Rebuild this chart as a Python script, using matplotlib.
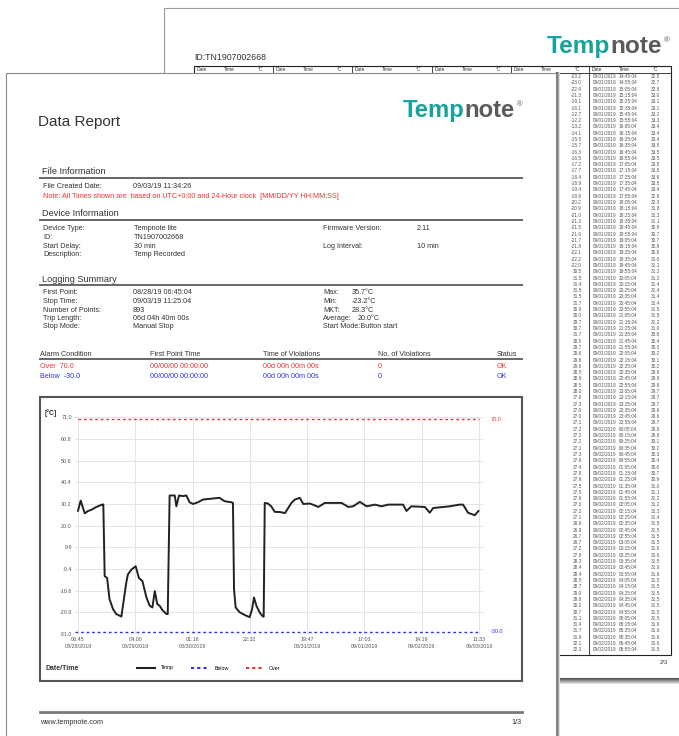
import matplotlib
matplotlib.use('Agg')
import matplotlib.pyplot as plt
from matplotlib.patches import Rectangle
from matplotlib.lines import Line2D
from matplotlib.transforms import blended_transform_factory
import numpy as np
import pandas as pd

plt.rcParams['font.family'] = ['Liberation Sans', 'DejaVu Sans']

# ---- chart data (hours after first point 08/28/2019 06:45:04) ----
hours = [0, 1.0, 2.5, 3.7, 4.9, 6.8, 9.0, 9.4, 9.9, 10.8, 11.7, 13.0, 14.2, 16.1,
         17.9, 18.5, 19.8, 21.4, 22.6, 23.9, 25.4, 26.6, 27.6, 28.5, 29.4, 30.3,
         31.3, 32.8, 33.3, 34.0, 35.9, 36.5, 37.5, 39.0, 40.2, 41.4, 42.7, 44.5,
         46.4, 48.8, 52.5, 54.4, 56.9, 57.5, 57.9, 58.5, 60.0, 61.8, 63.7, 64.6,
         65.3, 66.2, 67.4, 68.6, 68.9, 69.3, 70.5, 71.7, 73.0, 75.0, 76.8, 78.0,
         79.2, 80.5, 82.3, 83.6, 86.1, 89.2, 91.6, 97.8, 100.3, 102.1, 104.6,
         107.1, 110.2, 112.6, 115.1, 120.6, 121.9, 123.7, 128.7, 130.5, 131.8,
         137.9, 141.6, 142.9, 144.7, 147.2, 148.6]
temps = [27.0, 31.8, 25.8, 26.9, 27.4, 28.8, 29.9, 30.0, -3.8, -4.6, -14.6, -19.3,
         -21.6, -22.8, -6.9, -3.0, -0.7, 0.9, -4.6, -6.1, -13.8, -17.7, -18.5, -10.8,
         -16.9, -17.7, -19.7, -21.6, -21.6, 34.2, 34.2, 29.1, 34.2, 33.9, 34.2, 31.0,
         30.2, 31.0, 32.3, 32.6, 33.1, 31.5, 31.0, 30.7, -10.0, -18.5, -20.8, -22.0,
         -23.1, -19.3, -13.8, -17.7, -20.8, -22.8, -22.8, 30.7, 30.4, 29.1, 26.5,
         26.4, 25.9, 28.3, 30.7, 32.3, 33.1, 30.2, 30.4, 28.8, 30.7, 30.7, 28.8,
         29.1, 31.2, 29.1, 29.9, 29.1, 29.9, 29.9, 26.9, 29.1, 28.8, 26.1, 28.3,
         29.1, 29.9, 29.9, 26.1, 24.9, 26.9]
trip_hours = 148.8
tick_labels = ['06:45\n08/28/2019', '04:00\n08/29/2019', '01:16\n08/30/2019', '22:32',
               '19:47\n08/31/2019', '17:03\n09/01/2019', '14:19\n09/02/2019',
               '11:33\n09/03/2019']
y_ticks = [71.0, 60.8, 50.6, 40.4, 30.2, 20.0, 9.8, -0.4, -10.6, -20.8, -31.0]
over_limit = 70.0
below_limit = -30.0

# ---- report text ----
device_left = [('Device Type:', 'Tempnote lite'), ('ID:', 'TN1907002668'),
               ('Start Delay:', '30 min'), ('Description:', 'Temp Recorded')]
device_right = [('Firmware Version:', '2.11'), ('', ''), ('Log Interval:', '10 min')]
summary_left = [('First Point:', '08/28/19 06:45:04'), ('Stop Time:', '09/03/19 11:25:04'),
                ('Number of Points:', '893'), ('Trip Length:', '06d 04h 40m 00s'),
                ('Stop Mode:', 'Manual Stop')]
summary_right = [('Max:', '35.7°C'), ('Min:', '-23.2°C'), ('MKT:', '28.3°C'),
                 ('Average:', '20.0°C'), ('Start Mode:Button start', '')]
alarm_cols = ['Alarm Condition', 'First Point Time', 'Time of Violations',
              'No. of Violations', 'Status']
alarm_rows = [['Over  70.0', '00/00/00 00:00:00', '00d 00h 00m 00s', '0', 'OK'],
              ['Below  -30.0', '00/00/00 00:00:00', '00d 00h 00m 00s', '0', 'OK']]

# ---- page 2 table (two right-most column groups) ----
col5_temps = [-23.2, -23.0, -22.4, -21.3, -19.1, -16.1, -12.7, -12.2, -13.2, -14.1,
              -15.5, -15.7, -16.3, -16.5, -17.2, -17.7, -18.4, -18.9, -19.4, -19.8,
              -20.2, -20.9, -21.0, -21.3, -21.5, -21.6, -21.7, -21.8, -22.1, -22.2,
              -22.0, 30.5, 31.5, 31.4, 31.5, 31.5, 31.7, 30.9, 30.0, 29.7, 30.7, 31.7,
              30.5, 29.7, 29.6, 29.8, 29.6, 28.5, 28.9, 28.5, 28.0, 27.6, 27.3, 27.0,
              27.0, 27.1, 27.2, 27.2, 27.2, 27.1, 27.3, 27.6, 27.4, 27.8, 27.9, 27.5,
              27.5, 27.6, 27.3, 27.2, 27.1, 26.9, 26.8, 26.7, 26.7, 27.2, 27.8, 28.3,
              28.4, 28.4, 28.5, 28.7, 29.0, 29.8, 30.2, 30.7, 31.1, 31.4, 31.7, 31.8,
              32.1, 32.3]
col6_temps = [32.5, 32.7, 32.8, 33.0, 33.1, 33.1, 33.2, 33.3, 33.4, 33.4, 33.4, 33.5,
              33.5, 33.5, 33.5, 33.5, 33.6, 33.5, 33.4, 32.8, 32.3, 31.8, 31.3, 31.1,
              30.8, 30.7, 30.7, 30.8, 30.8, 31.0, 31.1, 31.2, 31.2, 31.4, 31.4, 31.4,
              31.4, 31.5, 31.5, 31.2, 31.0, 30.8, 30.4, 30.3, 30.2, 30.1, 30.2, 29.8,
              29.8, 29.8, 29.7, 29.7, 29.7, 29.6, 29.6, 29.7, 29.8, 29.9, 30.1, 30.2,
              30.3, 30.4, 30.6, 30.7, 30.9, 31.0, 31.1, 31.2, 31.2, 31.3, 31.4, 31.5,
              31.5, 31.5, 31.5, 31.6, 31.6, 31.5, 31.6, 31.6, 31.5, 31.5, 31.5, 31.5,
              31.5, 31.5, 31.5, 31.6, 31.6, 31.6, 31.6, 31.5]
col5_start = '2019-08-30 22:25:04'
col6_start = '2019-09-01 14:45:04'

W, H = 679, 736
teal = '#16a39d'
dark = '#333333'
red = '#ee3333'
blue = '#3333ee'

fig = plt.figure(figsize=(W / 100, H / 100), dpi=100)
ax = fig.add_axes([0, 0, 1, 1])
ax.set_xlim(0, W)
ax.set_ylim(H, 0)
ax.axis('off')
renderer = fig.canvas.get_renderer()


def txt(x, y, s, size=5.2, color=dark, z=6, **kw):
    return ax.text(x, y, s, fontsize=size, color=color, va='center', zorder=z, **kw)


def right_edge(t):
    bb = t.get_window_extent(renderer)
    return ax.transData.inverted().transform([[bb.x1, bb.y1]])[0][0]


def logo(x, y, size, z):
    t1 = ax.text(x, y, 'Temp', fontsize=size, fontweight='bold', color=teal,
                 va='baseline', zorder=z)
    t2 = ax.text(right_edge(t1), y, 'note', fontsize=size, fontweight='bold',
                 color='#5b5b5b', va='baseline', zorder=z)
    ax.text(right_edge(t2) + 2, y - size * 0.68, '®', fontsize=size * 0.32,
            color='#5b5b5b', va='center', zorder=z)


# ---- back page (2/3) ----
ax.add_patch(Rectangle((164, 8), 520, 670, facecolor='white', edgecolor='#9a9a9a',
                       lw=0.8, zorder=1))
for k, g in enumerate(['#555555', '#707070', '#8c8c8c', '#a8a8a8', '#c4c4c4', '#e0e0e0']):
    ax.add_patch(Rectangle((556, 678 + k), 130, 1, color=g, lw=0, zorder=1.5))
logo(547, 53, 17.6, 2)
txt(194, 58, 'ID:TN1907002668', size=6.3, z=2)
group_x = [194, 273, 352, 432, 511, 589]
ax.add_patch(Rectangle((194, 66), 477, 589, fill=False, edgecolor='#222222', lw=0.8, zorder=2))
ax.plot([194, 671], [73, 73], color='#222222', lw=0.6, zorder=2)
for gx in group_x:
    ax.plot([gx, gx], [66, 655], color='#222222', lw=0.6, zorder=2)
    txt(gx + 3, 69.5, 'Date', size=3.5, z=2)
    txt(gx + 30, 69.5, 'Time', size=3.5, z=2)
    txt(gx + 64, 69.5, '°C', size=3.5, z=2)
row_pitch = 6.3
# the date column of group 5 lies fully under the front page, so it is not drawn
for gx, vals, start, show_date in [(511, col5_temps, col5_start, False),
                                   (589, col6_temps, col6_start, True)]:
    stamps = pd.date_range(start, periods=len(vals), freq='10min')
    for i, (v, s) in enumerate(zip(vals, stamps)):
        y = 76.5 + i * row_pitch
        if show_date:
            txt(gx + 4, y, s.strftime('%m/%d/%Y'), size=3.4, color='#555555', z=2)
        txt(gx + 30, y, s.strftime('%H:%M:%S'), size=3.4, color='#555555', z=2)
        txt(gx + 71, y, f'{v:.1f}', size=3.4, color='#555555', z=2, ha='right')
txt(668, 662, '2/3', size=4.2, z=2, ha='right')

# ---- front page (1/3) ----
for k, g in enumerate(['#444444', '#777777', '#aaaaaa', '#dddddd']):
    ax.add_patch(Rectangle((556 + k, 72), 1, 670, color=g, lw=0, zorder=4))
ax.add_patch(Rectangle((5.5, 72.5), 550.5, 670, facecolor='white', edgecolor='#8a8a8a',
                       lw=0.8, zorder=5))
logo(403, 117, 17.2, 6)
txt(38, 122, 'Data Report', size=11)


def section(y, title):
    txt(42, y, title, size=6.6)
    ax.plot([40, 522], [y + 5.5, y + 5.5], color='#666666', lw=1.4, zorder=6)


section(172, 'File Information')
txt(43, 186, 'File Created Date:')
txt(133, 186, '09/03/19 11:34:26')
txt(43, 196, 'Note: All Times shown are  based on UTC+0:00 and 24-Hour clock  [MM/DD/YY HH:MM:SS]',
    color=red)

section(214, 'Device Information')
for i, (lab, val) in enumerate(device_left):
    txt(43, 229 + i * 8.5, lab)
    txt(134, 229 + i * 8.5, val)
for i, (lab, val) in enumerate(device_right):
    txt(323, 229 + i * 8.5, lab)
    txt(417, 229 + i * 8.5, val)

section(279, 'Logging Summary')
for i, (lab, val) in enumerate(summary_left):
    txt(43, 293 + i * 8.5, lab)
    txt(133, 293 + i * 8.5, val)
for i, (lab, val) in enumerate(summary_right):
    t = txt(323, 293 + i * 8.5, lab)
    if val:
        txt(max(352, right_edge(t) + 6), 293 + i * 8.5, val)

col_x = [40, 150, 263, 378, 497]
for cx, c in zip(col_x, alarm_cols):
    txt(cx, 355, c)
ax.plot([40, 522], [359, 359], color='#666666', lw=1.4, zorder=6)
for r, (row, col) in enumerate(zip(alarm_rows, [red, blue])):
    for cx, s in zip(col_x, row):
        txt(cx, 367 + r * 9, s, color=col)

# chart frame and footer
ax.add_patch(Rectangle((40, 397), 482, 284, facecolor='white', edgecolor='#555555',
                       lw=1.5, zorder=6))
txt(45, 413, '[°C]', size=5, fontweight='bold', z=7)
txt(45, 669, 'Date/Time', size=5, fontweight='bold', z=7)
ax.plot([40, 522], [712, 712], color='#777777', lw=2, zorder=6)
txt(40, 722, 'www.tempnote.com', size=5.2)
txt(522, 722, '1/3', size=5.2, ha='right')

# ---- temperature chart ----
left, right, top, bottom = 75.3, 483, 417.3, 634
cax = fig.add_axes([left / W, 1 - bottom / H, (right - left) / W, (bottom - top) / H])
cax.set_facecolor('none')
tick_pos = np.linspace(0, trip_hours, len(tick_labels))
cax.plot(hours, temps, color='#222222', lw=1.4, zorder=3)
cax.hlines(over_limit, 0, trip_hours, color=red, lw=1.0, linestyles=(0, (2, 2)), zorder=2)
cax.hlines(below_limit, -1, trip_hours, color=blue, lw=1.0, linestyles=(0, (2, 2)), zorder=2)
cax.set_xlim(-1, trip_hours + (right - 479) / (479 - 78) * trip_hours)
cax.set_ylim(y_ticks[-1], y_ticks[0])
cax.set_yticks(y_ticks)
cax.set_yticklabels([f'{v:.1f}' for v in y_ticks])
cax.set_xticks(tick_pos)
cax.set_xticklabels(tick_labels, linespacing=1.35)
cax.tick_params(length=0, labelsize=3.9, labelcolor='#555555', pad=2.5)
cax.grid(True, color='#e4e4e4', lw=0.7)
for sp in cax.spines.values():
    sp.set_visible(False)
trans = blended_transform_factory(cax.transAxes, cax.transData)
cax.text(1.018, over_limit, f'{over_limit:.1f}', color=red, fontsize=3.9,
         transform=trans, va='center')
cax.text(1.018, below_limit, f'{below_limit:.1f}', color=blue, fontsize=3.9,
         transform=trans, va='center')

handles = [Line2D([], [], color='#222222', lw=1.5),
           Line2D([], [], color=blue, lw=1.5, ls=(0, (1.5, 1.5))),
           Line2D([], [], color=red, lw=1.5, ls=(0, (1.5, 1.5)))]
fig.legend(handles, ['Temp', 'Below', 'Over'], ncol=3, loc='center',
           bbox_to_anchor=(209 / W, 1 - 668 / H), frameon=False, fontsize=3.8,
           handlelength=3.4, handletextpad=1.0, columnspacing=3.3)

fig.savefig('out.png', dpi=100)
